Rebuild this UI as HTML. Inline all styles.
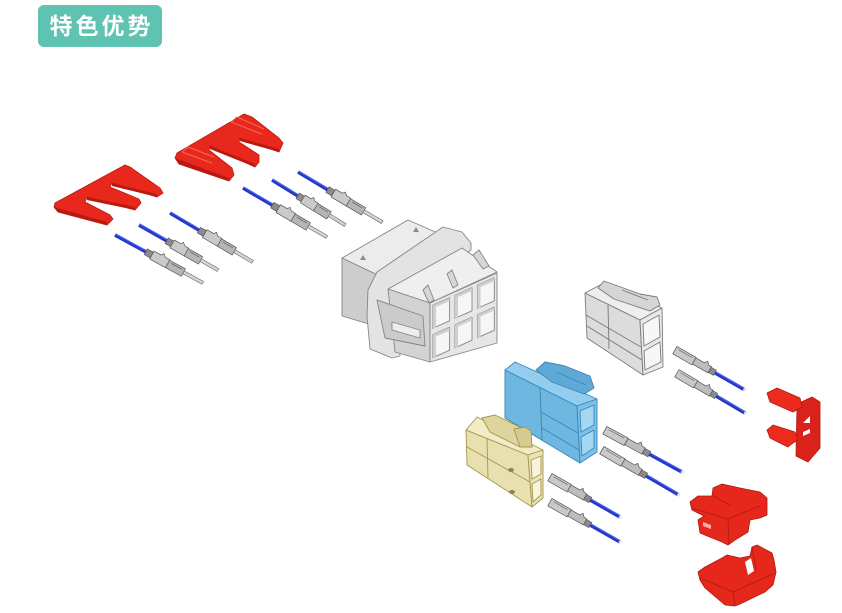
<!DOCTYPE html>
<html>
<head>
<meta charset="utf-8">
<style>
  html,body{margin:0;padding:0;background:#fff;}
  body{width:842px;height:613px;position:relative;overflow:hidden;}
  .badge{position:absolute;left:38px;top:5px;width:124px;height:42px;border-radius:6px;background:#5fc3b1;
    color:#fff;font-family:"Liberation Sans","Noto Sans CJK SC",sans-serif;font-weight:bold;font-size:23px;
    line-height:42px;text-align:center;letter-spacing:3px;text-indent:3px;}
  svg{position:absolute;left:0;top:0;}
</style>
</head>
<body>
<div class="badge">特色优势</div>
<svg width="842" height="613" viewBox="0 0 842 613" xmlns="http://www.w3.org/2000/svg">
<defs>
  <g id="tl">
    <rect x="0" y="-1.8" width="37" height="3.6" fill="#2438cc"/>
    <rect x="0" y="-1.8" width="37" height="1" fill="#5a6ee6"/>
    <path d="M35,-3.2 L42,-3.2 L42,3.2 L35,3.2Z" fill="#8c8c8c" stroke="#444" stroke-width=".6"/>
    <path d="M42,-4.5 L50,-4.5 L52,-7 L55,-4.5 L60,-4.5 L60,4.5 L42,4.5Z" fill="#cacaca" stroke="#555" stroke-width=".7"/>
    <path d="M60,-4 L78,-4 L78,4.5 L60,4.5Z" fill="#b5b5b5" stroke="#555" stroke-width=".7"/>
    <path d="M63,-2 L75,-2" stroke="#666" stroke-width=".8"/>
    <rect x="78" y="-1.6" width="22" height="3.2" fill="#d4d4d4" stroke="#666" stroke-width=".6"/>
  </g>
  <g id="tr">
    <path d="M0,-4 L22,-4 L22,4.5 L0,4.5Z" fill="#c9c9c9" stroke="#555" stroke-width=".7"/>
    <path d="M3,-2 L19,-2" stroke="#777" stroke-width=".8"/>
    <path d="M22,-3.5 L32,-3.5 L34,-6.5 L37,-3.5 L40,-3.5 L40,3.5 L22,3.5Z" fill="#bdbdbd" stroke="#555" stroke-width=".7"/>
    <rect x="40" y="-3" width="6" height="6" fill="#8a8a8a" stroke="#444" stroke-width=".5"/>
    <rect x="46" y="-1.8" width="34" height="3.6" fill="#2438cc"/>
    <rect x="46" y="-1.8" width="34" height="1" fill="#5a6ee6"/>
    <ellipse cx="80" cy="0" rx="1.3" ry="1.8" fill="#dde2f0"/>
  </g>
</defs>

<!-- ========== Red comb 1 ========== -->
<polygon points="55,203 125,165 130,167 160,188 163,193 157,197 112,183 110,187 139,199 141,203 135,210 87,197 85,202 110,215 113,219 107,225 58,212 54,207"
  fill="#e8281c" stroke="#b81a10" stroke-width="0.8"/>
<polygon points="54,207 107,222 107,225 58,212" fill="#b91a10"/>
<polygon points="87,197 135,207 135,210 87,200" fill="#b91a10"/>
<polygon points="112,183 157,194 157,197 112,186" fill="#b91a10"/>

<!-- ========== Red comb 2 ========== -->
<polygon points="177,153 239,117 244,114 252,117 279,138 283,143 279,152 240,138 239,142 259,155 259,162 255,167 210,146 209,150 232,168 234,175 229,181 179,164 175,158"
  fill="#e8281c" stroke="#b81a10" stroke-width="0.8"/>
<polygon points="175,158 229,178 229,181 179,164" fill="#b91a10"/>
<polygon points="210,146 255,164 255,167 210,149" fill="#b91a10"/>
<polygon points="240,138 279,149 279,152 240,141" fill="#b91a10"/>
<path d="M182,152 L212,163 M182,152 L188,147 L214,157" stroke="#f36a5a" stroke-width="1" fill="none"/>
<path d="M231,122 L262,134 M231,122 L237,117 L264,129" stroke="#f36a5a" stroke-width="1" fill="none"/>

<!-- ========== Left terminals ========== -->
<use href="#tl" transform="translate(115,235) rotate(28.6) scale(1,1)"/>
<use href="#tl" transform="translate(139,225) rotate(29.7) scale(0.91,1)"/>
<use href="#tl" transform="translate(170,213) rotate(30.6) scale(0.96,1)"/>
<use href="#tl" transform="translate(243,188) rotate(30.3) scale(0.97,1)"/>
<use href="#tl" transform="translate(272,180) rotate(31.6) scale(0.86,1)"/>
<use href="#tl" transform="translate(298,172) rotate(30.8) scale(0.98,1)"/>

<!-- ========== Main white housing ========== -->
<g stroke="#858585" stroke-width="0.9" stroke-linejoin="round">
  <polygon points="342,258 382,277 382,328 342,316" fill="#cdcdcd"/>
  <polygon points="342,258 408,220 440,234 382,277" fill="#ececec"/>
  <path d="M360,260 l3,-5 l3,5z" fill="#8a8a8a" stroke="none"/>
  <path d="M413,232 l3,-5 l3,5z" fill="#8a8a8a" stroke="none"/>
  <polygon points="368,290 377,272 443,227 462,232 471,243 471,250 400,296 400,356 392,358 370,349 367,316" fill="#e3e3e3"/>
  <polygon points="388,289 462,248 497,272 430,303" fill="#efefef"/>
  <polygon points="388,289 430,303 430,362 395,352" fill="#d3d3d3"/>
  <polygon points="377,300 423,316 425,346 385,338" fill="#cbcbcb"/>
  <polygon points="392,322 420,330 420,338 392,330" fill="#ededed"/>
  <polygon points="423,290 428,285 434,300 429,303" fill="#d6d6d6"/>
  <polygon points="447,274 452,270 458,285 453,288" fill="#d6d6d6"/>
  <polygon points="473,255 479,250 489,266 483,269" fill="#d6d6d6"/>
  <polygon points="430,303 497,273 497,343 430,362" fill="#e6e6e6"/>
  <polygon points="432.7,305.3 449.6,297.7 449.6,320.8 432.7,328.4" fill="#f6f6f6"/>
  <polygon points="432.7,334.8 449.6,327.2 449.6,350.2 432.7,357.8" fill="#f6f6f6"/>
  <polygon points="455,295.3 472,287.7 472,310.8 455,318.4" fill="#f6f6f6"/>
  <polygon points="455,324.8 472,317.2 472,340.2 455,347.8" fill="#f6f6f6"/>
  <polygon points="477.4,285.3 494.3,277.7 494.3,300.8 477.4,308.4" fill="#f6f6f6"/>
  <polygon points="477.4,314.8 494.3,307.2 494.3,330.2 477.4,337.8" fill="#f6f6f6"/>
</g>
<g fill="#cfcfcf">
  <polygon points="432.7,305.3 449.6,297.7 449.6,301 436,307 436,328 432.7,328.4"/>
  <polygon points="432.7,334.8 449.6,327.2 449.6,330.5 436,336.5 436,357.5 432.7,357.8"/>
  <polygon points="455,295.3 472,287.7 472,291 458,297 458,318 455,318.4"/>
  <polygon points="455,324.8 472,317.2 472,320.5 458,326.5 458,347.5 455,347.8"/>
  <polygon points="477.4,285.3 494.3,277.7 494.3,281 480.5,287 480.5,308 477.4,308.4"/>
  <polygon points="477.4,314.8 494.3,307.2 494.3,310.5 480.5,316.5 480.5,337.5 477.4,337.8"/>
</g>

<!-- ========== Small grey housing ========== -->
<g stroke="#7a7a7a" stroke-width="0.9" stroke-linejoin="round">
  <polygon points="585,293 640,320 643,375 587,338" fill="#dcdcdc"/>
  <polygon points="585,293 604,283 662,308 640,320" fill="#eeeeee"/>
  <polygon points="640,320 662,308 663,367 643,375" fill="#e9e9e9"/>
  <polygon points="643,324 659,315 660,337 644,346" fill="#f7f7f7"/>
  <polygon points="644,351 660,342 661,362 645,370" fill="#f7f7f7"/>
  <path d="M586,315 L641,347 M608,305 L609,349 M587,326 L642,360" fill="none"/>
  <polygon points="598,288 604,281 640,294 657,297 660,305 650,311 614,299" fill="#d5d5d5"/>
  <path d="M622,290 L648,300" fill="none"/>
</g>

<!-- ========== Blue housing ========== -->
<g stroke="#3a86b8" stroke-width="0.9" stroke-linejoin="round">
  <polygon points="505,370 577,406 580,463 505,418" fill="#6db7e0"/>
  <polygon points="505,370 515,362 597,399 577,406" fill="#92cdee"/>
  <polygon points="577,406 597,399 597,452 580,463" fill="#7bc1e7"/>
  <polygon points="580,411 594,405 594,425 581,432" fill="#a6d7f2"/>
  <polygon points="581,437 594,430 594,448 582,456" fill="#a6d7f2"/>
  <path d="M540,388 L542,440 M541,412 L578,433 M542,428 L579,450" fill="none"/>
  <polygon points="536,370 545,362 565,366 590,376 594,388 584,394 552,382" fill="#5ea9d6"/>
  <path d="M556,372 L586,385" fill="none"/>
</g>

<!-- ========== Yellow housing ========== -->
<g stroke="#a3954f" stroke-width="0.9" stroke-linejoin="round">
  <polygon points="466,430 528,455 532,507 467,465" fill="#e8e0ae"/>
  <polygon points="466,430 477,417 543,450 528,455" fill="#f1ebc6"/>
  <polygon points="528,455 543,450 543,498 532,507" fill="#ebe4b6"/>
  <polygon points="531,460 541,456 541,474 532,479" fill="#f7f3dc"/>
  <polygon points="532,484 541,479 541,495 533,502" fill="#f7f3dc"/>
  <path d="M467,447 L530,482 M487,438 L488,478" fill="none"/>
  <polygon points="482,418 495,415 530,432 532,447 520,447 490,432" fill="#ded59e"/>
  <polygon points="514,429 525,427 531,431 532,447 520,447" fill="#d6cc92"/>
  <ellipse cx="511" cy="470" rx="3" ry="2" fill="#8d8250" stroke="none"/>
  <ellipse cx="512" cy="492" rx="3" ry="2" fill="#8d8250" stroke="none"/>
</g>

<!-- ========== Right terminals ========== -->
<use href="#tr" transform="translate(675,350) rotate(29.7) scale(1.0,1)"/>
<use href="#tr" transform="translate(677,373) rotate(30.5) scale(0.99,1)"/>
<use href="#tr" transform="translate(605,430) rotate(28.6) scale(1.1,1)"/>
<use href="#tr" transform="translate(602,450) rotate(30.3) scale(1.11,1)"/>
<use href="#tr" transform="translate(550,477) rotate(29.7) scale(1.01,1)"/>
<use href="#tr" transform="translate(550,502) rotate(29.7) scale(1.01,1)"/>

<!-- ========== Right red clips ========== -->
<g stroke="#b01a10" stroke-width="0.8" stroke-linejoin="round">
  <polygon points="797,404 812,397 820,402 820,448 808,462 796,456" fill="#d8221a"/>
  <polygon points="767,393 777,388 800,398 802,407 793,412 770,402" fill="#ea2b1e"/>
  <polygon points="767,430 773,425 795,432 798,440 793,443 788,447 770,438" fill="#ea2b1e"/>
  <polygon points="803,423 810,416 810,423" fill="#fff" stroke="none"/>
  <polygon points="803,432 810,429 810,433 803,436" fill="#fff" stroke="none"/>
  <polygon points="690,502 698,496 712,496 713,488 722,484 740,488 760,492 767,498 767,515 760,518 750,520 748,532 735,540 728,545 722,542 700,533 698,520 704,516 692,510" fill="#e6271c"/>
  <path d="M713,496 L730,505 M692,508 L728,519 L760,506 M728,519 L729,544" fill="none"/>
  <polygon points="703,522 711,525 711,529 703,526" fill="#f6b0a8" stroke="none"/>
  <polygon points="698,572 705,567 722,558 727,555 740,558 750,556 752,547 757,545 772,553 774,560 776,572 773,585 765,592 740,604 735,606 725,605 705,588 700,580" fill="#e6271c"/>
  <path d="M700,578 L733,592 L773,574 M733,592 L735,605 M752,547 L756,570" fill="none"/>
  <polygon points="745,562 751,558 754,571 748,575" fill="#fff" stroke="none"/>
</g>
</svg>
</body>
</html>
